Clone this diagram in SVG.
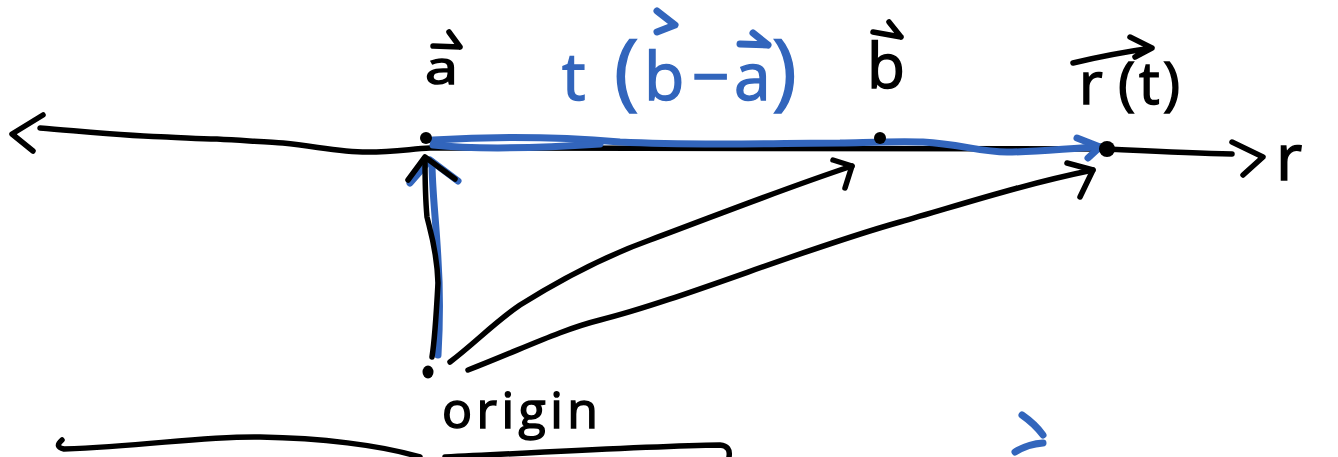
<svg xmlns="http://www.w3.org/2000/svg" width="1338" height="457" viewBox="0 0 1338 457">
<style>
.k{fill:none;stroke:#000;stroke-width:5.5;stroke-linecap:round;stroke-linejoin:round}
.u{fill:none;stroke:#3265BC;stroke-width:7;stroke-linecap:round;stroke-linejoin:round}
.kt{font-family:"Open Sans","Liberation Sans",sans-serif;fill:#000;stroke:#000;stroke-width:1.5}
.ut{font-family:"Open Sans","Liberation Sans",sans-serif;fill:#3265BC;stroke:#3265BC;stroke-width:1.5}
</style>
<rect width="1338" height="457" fill="#fff"/>
<g id="connectors">
  <!-- main line r -->
  <path class="k" d="M40,128 C100,133 140,137 167,137 C190,138 200,139 217,139 C250,141 270,142 283,143 C320,147 340,152 367,152 C395,152 410,149 430,148 L1107,149 C1150,151 1190,153 1232,154"/>
  <path class="k" d="M43,115 L12,134 L33,151"/>
  <path class="k" d="M1232,142 L1263,157 L1243,175"/>
  <!-- blue t(b-a) -->
  <path class="u" d="M433,140 C500,136 560,137 620,142 C700,146 780,143 840,143 C880,142 900,141 923,142 C960,144 980,152 1007,152 C1040,152 1070,148 1100,147"/>
  <path class="u" d="M433,145 C480,150 540,148 600,144"/>
  <path class="u" d="M1077,138 L1100,147 L1088,158"/>
  <!-- origin to a (blue trace + black) -->
  <path class="u" d="M438,355 C440,320 440,290 438,260 C436,220 432,190 432,162"/>
  <path class="u" d="M410,183 L430,160 L458,181"/>
  <path class="k" d="M432,357 C434,345 436,320 438,283 C437,250 430,230 427,217 C425,195 425,175 425,158"/>
  <path class="k" d="M408,180 L425,157 L455,179"/>
  <!-- origin to b -->
  <path class="k" d="M450,362 C475,343 495,322 520,305 C560,280 600,258 650,240 C720,214 780,190 852,166"/>
  <path class="k" d="M833,160 L852,166 L845,188"/>
  <!-- origin to r(t) -->
  <path class="k" d="M468,370 C520,350 560,330 600,320 C680,300 800,250 900,222 C960,205 1020,185 1093,170"/>
  <path class="k" d="M1067,163 L1093,170 L1080,197"/>
</g>
<g id="node-a">
  <circle cx="426" cy="138" r="6" fill="#000"/>
  <path class="k" d="M433,46 L460,47 M449,32 L460,47"/>
  <text class="kt" x="425" y="84" font-size="46" textLength="33" lengthAdjust="spacingAndGlyphs">a</text>
</g>
<g id="node-tba">
  <path class="u" d="M657,11 L675,25 L657,32"/>
  <path class="u" d="M740,44 L768,45 M753,33 L768,45"/>
  <text class="ut" y="100" font-size="66"><tspan x="562">t</tspan><tspan x="614" font-size="84">(</tspan><tspan x="644">b</tspan><tspan x="692">−</tspan><tspan x="734">a</tspan><tspan x="772" font-size="84">)</tspan></text>
</g>
<g id="node-b">
  <circle cx="880" cy="138" r="6" fill="#000"/>
  <path class="k" d="M873,32 L901,37 M889,22 L901,37"/>
  <text class="kt" x="867" y="88" font-size="62">b</text>
</g>
<g id="node-rt">
  <circle cx="1107" cy="149" r="8" fill="#000"/>
  <path class="k" d="M1073,63 Q1110,54 1152,48 M1130,37 L1152,48 L1135,57"/>
  <text class="kt" y="104" font-size="58"><tspan x="1079">r</tspan><tspan x="1118">(</tspan><tspan x="1139">t</tspan><tspan x="1163">)</tspan></text>
</g>
<g id="node-r">
  <text class="kt" x="1276" y="180" font-size="64">r</text>
</g>
<g id="node-origin">
  <ellipse cx="428" cy="372" rx="5.5" ry="6.5" fill="#000"/>
  <text class="kt" x="442" y="428" font-size="50" textLength="156" lengthAdjust="spacing">origin</text>
</g>
<g id="strokes">
  <path class="k" d="M62,440 Q54,447 64,449 C150,446 200,436 260,437 C320,438 380,445 420,457"/>
  <path class="k" d="M445,457 C550,452 650,446 720,445 Q731,446 729,457"/>
  <path class="u" d="M1022,415 Q1035,424 1043,435 M1015,452 Q1028,444 1043,443"/>
</g>
</svg>
